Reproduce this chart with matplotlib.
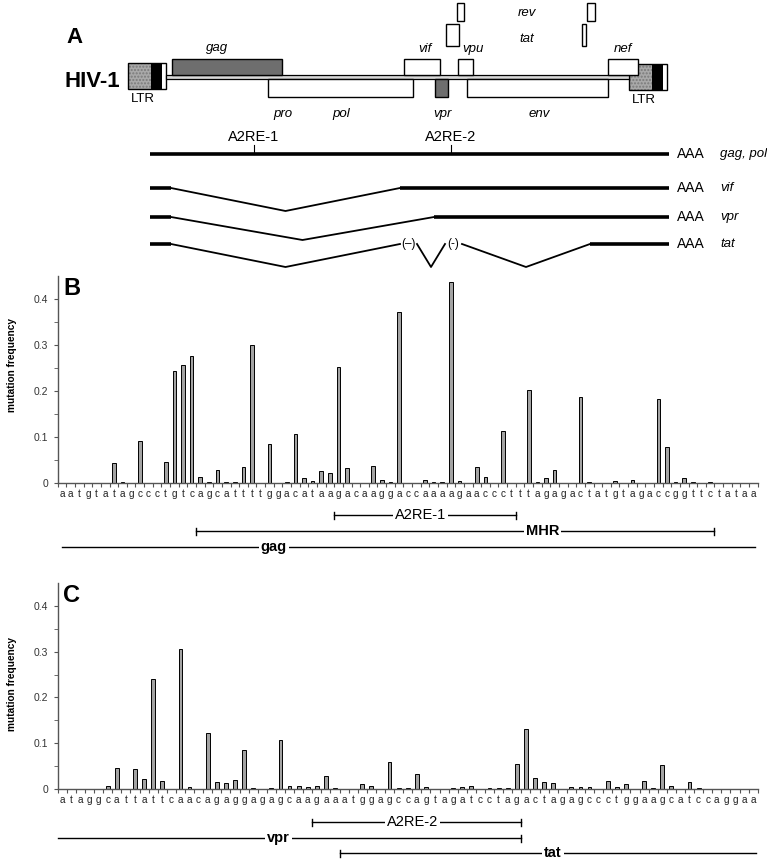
import numpy as np
import matplotlib
matplotlib.use("Agg")
import matplotlib.pyplot as plt
import matplotlib.patches as mpatches
import matplotlib.transforms as mtransforms

plt.rcParams['font.family'] = ['Liberation Sans', 'DejaVu Sans']

# ---------------- data: panel B (A2RE-1 region, gag) ----------------
seq_B = list("aatgtatagccctgtcagcattttggacataagacaagga"
             "ccaaaagaaccctttagagactatgtagaccggttctataa")
freq_B = [0, 0, 0, 0, 0, 0, 0.044, 0.002, 0, 0.092,
          0, 0, 0.046, 0.243, 0.257, 0.276, 0.012, 0.002, 0.028, 0.002,
          0.002, 0.035, 0.300, 0, 0.085, 0, 0.002, 0.106, 0.011, 0.004,
          0.026, 0.021, 0.253, 0.033, 0, 0, 0.037, 0.007, 0.002, 0.372,
          0, 0, 0.007, 0.002, 0.002, 0.436, 0.004, 0, 0.035, 0.012,
          0, 0.113, 0, 0, 0.202, 0.002, 0.011, 0.028, 0, 0,
          0.188, 0.002, 0, 0, 0.004, 0, 0.007, 0, 0, 0.183,
          0.078, 0.002, 0.011, 0.002, 0, 0.002, 0, 0, 0, 0, 0]

# ---------------- data: panel C (A2RE-2 region, vpr/tat) ----------------
seq_C = list("ataggcattattcaacagaggagagcaagaaatggagccagtagatcctagactagagccctggaagcatccaggaa")
freq_C = [0, 0, 0, 0, 0, 0.007, 0.045, 0, 0.043, 0.022,
          0.240, 0.017, 0, 0.306, 0.005, 0, 0.123, 0.015, 0.013, 0.020,
          0.086, 0.002, 0, 0.002, 0.107, 0.007, 0.007, 0.004, 0.007, 0.028,
          0.002, 0, 0, 0.011, 0.007, 0, 0.060, 0.002, 0.002, 0.032,
          0.005, 0, 0, 0.003, 0.004, 0.007, 0, 0.002, 0.002, 0.002,
          0.055, 0.132, 0.023, 0.016, 0.014, 0, 0.005, 0.005, 0.004, 0,
          0.017, 0.004, 0.011, 0, 0.017, 0.002, 0.053, 0.007, 0, 0.016,
          0.002, 0, 0.001, 0, 0, 0, 0]

# sequence ranges (in nucleotide index units) shown under the plots
ranges_B = ["A2RE-1", "MHR", "gag"]
ranges_B_start = [31.5, 15.5, 0.0]
ranges_B_end = [52.5, 75.5, 80.2]
ranges_C = ["A2RE-2", "vpr", "tat"]
ranges_C_start = [27.5, -0.5, 30.5]
ranges_C_end = [50.5, 50.5, 76.3]

# ---------------- data: panel A genome map (schematic units) ----------------
genome_start, genome_end = 166, 629
top_genes = ["gag", "vif", "vpu", "nef"]
top_start = [172, 404, 458, 608]
top_end = [282, 440, 473, 638]
low_genes = ["pol", "vpr", "env"]
low_start = [268, 435, 467]
low_end = [413, 448, 608]
rev_exons = [(457, 464), (587, 595)]
tat_exons = [(446, 459), (582, 586)]

transcripts = ["gag, pol", "vif", "vpr", "tat"]
transcript_exons = [[(150, 669)],
                    [(150, 171), (400, 669)],
                    [(150, 171), (434, 669)],
                    [(150, 171), (400, 417), (445, 462), (590, 669)]]
optional_exons = {"tat": [1, 2]}   # drawn as (-)
a2re_sites = [("A2RE-1", 254), ("A2RE-2", 451)]

# ====================================================================
fig = plt.figure(figsize=(7.67, 8.64), dpi=100)
ax0 = fig.add_axes([0, 0, 1, 1])
ax0.set_xlim(0, 767)
ax0.set_ylim(864, 0)
ax0.axis('off')

# ---- panel A ----
ax0.text(66, 43, "A", fontsize=16, fontweight='bold')
ax0.text(65, 87, "HIV-1", fontsize=16, fontweight='bold')

def ltr(x, y):
    ax0.add_patch(mpatches.Rectangle((x, y), 23, 26, facecolor='#a9a9a9', edgecolor='#7a7a7a',
                                     hatch='.....', lw=0))
    ax0.add_patch(mpatches.Rectangle((x + 23, y), 11, 26, facecolor='black', lw=0))
    ax0.add_patch(mpatches.Rectangle((x, y), 38, 26, facecolor='none', edgecolor='black', lw=1.0))
    ax0.text(x + 15, y + 39, "LTR", fontsize=9.5, ha='center', va='baseline')

ltr(128, 63)
ltr(629, 64)

ax0.add_patch(mpatches.Rectangle((genome_start, 75), genome_end - genome_start, 4,
                                 facecolor='#d8d8d8', edgecolor='black', lw=0.9))
for name, s, e in zip(top_genes, top_start, top_end):
    fc = '#6e6e6e' if name == "gag" else 'white'
    ax0.add_patch(mpatches.Rectangle((s, 59), e - s, 16, facecolor=fc, edgecolor='black', lw=1.0))
for name, s, e in zip(low_genes, low_start, low_end):
    fc = '#6e6e6e' if name == "vpr" else 'white'
    ax0.add_patch(mpatches.Rectangle((s, 79), e - s, 18, facecolor=fc, edgecolor='black', lw=1.0))
for s, e in rev_exons:
    ax0.add_patch(mpatches.Rectangle((s, 3), e - s, 18, facecolor='white', edgecolor='black', lw=1.0))
for s, e in tat_exons:
    ax0.add_patch(mpatches.Rectangle((s, 24), e - s, 22, facecolor='white', edgecolor='black', lw=1.0))

gene_labels = [("gag", 217, 51), ("vif", 425, 52), ("vpu", 473, 52), ("nef", 623, 52),
               ("pro", 283, 117), ("pol", 341, 117), ("vpr", 442, 117), ("env", 539, 117),
               ("rev", 527, 16), ("tat", 527, 42)]
for lab, x, y in gene_labels:
    ax0.text(x, y, lab, fontsize=9.5, style='italic', ha='center', va='baseline')

# transcripts
row_y = [154, 188, 217, 244]
for name, exons, y in zip(transcripts, transcript_exons, row_y):
    opt = optional_exons.get(name, [])
    for k, (s, e) in enumerate(exons):
        if k in opt:
            ax0.text((s + e) / 2, y, "(–)" if k == opt[0] else "(-)", fontsize=8.5,
                     ha='center', va='center')
        else:
            ax0.plot([s, e], [y, y], color='black', lw=2.6, solid_capstyle='butt')
        if k > 0:
            x0 = exons[k - 1][1]
            ax0.plot([x0, (x0 + s) / 2, s], [y, y + 23, y], color='black', lw=1.3)
    ax0.text(677, y, "AAA", fontsize=10, ha='left', va='center')
    ax0.text(720, y, name, fontsize=9.5, style='italic', ha='left', va='center')

for lab, x in a2re_sites:
    ax0.plot([x, x], [145, 154], color='black', lw=0.8)
    ax0.text(x, 141, lab, fontsize=10.5, ha='center', va='baseline')

# ---- panels B and C ----
def bar_panel(rect, seq, freq, letter, ylab_y):
    ax = fig.add_axes(rect)
    n = len(seq)
    ax.bar(np.arange(n), freq, width=0.42, color='#a3a3a3', edgecolor='black', linewidth=0.7)
    ax.set_xlim(-0.5, n - 0.5)
    ax.set_ylim(0, 0.45)
    ax.patch.set_visible(False)
    for sp in ['top', 'right']:
        ax.spines[sp].set_visible(False)
    for sp in ['left', 'bottom']:
        ax.spines[sp].set_color('#555555')
        ax.spines[sp].set_linewidth(1.0)
    ax.set_xticks(np.arange(-0.5, n), labels=[''] * (n + 1))
    ax.set_xticks(np.arange(n), labels=seq, minor=True)
    ax.tick_params(axis='x', which='major', length=3, direction='out', color='#555555')
    ax.tick_params(axis='x', which='minor', length=0, pad=4, labelsize=7.2, labelcolor='#222222')
    ax.set_yticks([0, 0.1, 0.2, 0.3, 0.4], labels=['0', '0.1', '0.2', '0.3', '0.4'])
    ax.set_yticks(np.arange(0.05, 0.45, 0.1), minor=True)
    ax.tick_params(axis='y', which='both', length=3, direction='out', color='#555555',
                   labelsize=7.5, labelcolor='#333333', pad=4)
    fig.text(0.0823, rect[1] + rect[3] - 19 / 864, letter, fontsize=17, fontweight='bold',
             ha='left', va='baseline')
    fig.text(12 / 767, 1 - ylab_y / 864, "mutation frequency", rotation=90, fontsize=7.3,
             fontweight='bold', ha='center', va='center')
    return ax

axB = bar_panel([57.7 / 767, 1 - 483 / 864, 700 / 767, 207 / 864], seq_B, freq_B, "B", 365)
axC = bar_panel([57.7 / 767, 1 - 789 / 864, 700 / 767, 206 / 864], seq_C, freq_C, "C", 684)

def ranges(ax, names, starts, ends, ys, text_x, bolds, ticks):
    tr = mtransforms.blended_transform_factory(ax.transData, ax0.transData)
    for name, s, e, y, tx, b, t in zip(names, starts, ends, ys, text_x, bolds, ticks):
        ax0.plot([s, e], [y, y], color='black', lw=1.0, transform=tr, clip_on=False)
        if 'l' in t:
            ax0.plot([s, s], [y - 3.5, y + 3.5], color='black', lw=1.0, transform=tr, clip_on=False)
        if 'r' in t:
            ax0.plot([e, e], [y - 3.5, y + 3.5], color='black', lw=1.0, transform=tr, clip_on=False)
        ax0.text(tx, y, name, transform=tr, fontsize=10.5, ha='center', va='center',
                 fontweight='bold' if b else 'normal',
                 bbox=dict(facecolor='white', edgecolor='none', pad=1.5))

ranges(axB, ranges_B, ranges_B_start, ranges_B_end, [515, 531, 547],
       [41.5, 55.6, 24.5], [False, True, True], ['lr', 'lr', ''])
ranges(axC, ranges_C, ranges_C_start, ranges_C_end, [822, 838, 853],
       [38.5, 23.8, 54.0], [False, True, True], ['lr', 'r', 'l'])

plt.savefig('out.png', dpi=100)
plt.close()
